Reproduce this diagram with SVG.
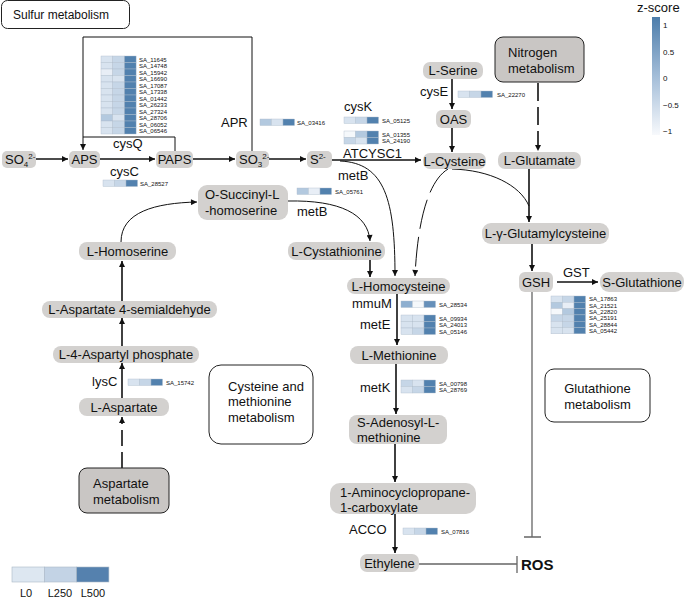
<svg xmlns="http://www.w3.org/2000/svg" width="685" height="599" viewBox="0 0 685 599">
<defs>
<marker id="ah" viewBox="0 0 10 10" refX="10" refY="5" markerWidth="7" markerHeight="6" orient="auto" markerUnits="userSpaceOnUse"><path d="M0,0 L10,5 L0,10 z" fill="#111"/></marker>
<linearGradient id="zg" x1="0" y1="0" x2="0" y2="1"><stop offset="0" stop-color="#4d7dab"/><stop offset="0.5" stop-color="#a3bdd8"/><stop offset="1" stop-color="#f7f9fc"/></linearGradient>
</defs>
<style>
text{font-family:"Liberation Sans",Arial,sans-serif;fill:#111}
.n{fill:#d3d1cf}
.p{fill:#c9c6c4;stroke:#222;stroke-width:1}
.bx{fill:#fff;stroke:#222;stroke-width:1}
.t{font-size:13px}
.tm{font-size:13px;text-anchor:middle}
.s{font-size:6px}
.z{font-size:8px}
.ln{fill:none;stroke:#111;stroke-width:1.6}
.th{fill:none;stroke:#111;stroke-width:1}
.gr{fill:none;stroke:#666;stroke-width:1.3}
.hm rect{stroke:#aebccb;stroke-width:0.4}
.a{fill:#e8eef6}.b{fill:#d8e3ef}.c{fill:#c6d6e7}.d{fill:#b3c9df}.e{fill:#8eafd0}.f{fill:#5281ae}.w{fill:#f5f8fb}
</style>
<rect width="685" height="599" fill="#fff"/>

<g id="connectors">
<path class="ln" d="M35 159 L68 159" marker-end="url(#ah)"/>
<path class="ln" d="M100 159 L155 159" marker-end="url(#ah)"/>
<path class="ln" d="M193 159 L235 159" marker-end="url(#ah)"/>
<path class="ln" d="M269 159 L306 159" marker-end="url(#ah)"/>
<path class="ln" d="M332 160 L421 160" marker-end="url(#ah)"/>
<path class="th" d="M252 151 L252 37 L83 37 L83 150" marker-end="url(#ah)"/>
<path class="th" d="M175 151 L175 137 L83 137"/>
<path class="th" d="M340 161 C385 163 395 200 395 276" marker-end="url(#ah)"/>
<path class="th" d="M448 169 C430 180 418 215 415 276" stroke-dasharray="30 8" marker-end="url(#ah)"/>
<path class="th" d="M452 169 C490 170 520 185 529 206"/>
<path class="ln" d="M529 168 L529 222" marker-end="url(#ah)"/>
<path class="ln" d="M538 83 L538 151" stroke-dasharray="18 6" marker-end="url(#ah)"/>
<path class="ln" d="M452 79 L452 109" marker-end="url(#ah)"/>
<path class="ln" d="M452 128 L452 152" marker-end="url(#ah)"/>
<path class="th" d="M288 201 C340 200 368 214 370 241" marker-end="url(#ah)"/>
<path class="th" d="M121 242 C121 212 155 203 197 202" marker-end="url(#ah)"/>
<path class="ln" d="M370 260 L370 277" marker-end="url(#ah)"/>
<path class="ln" d="M122 301 L122 261" marker-end="url(#ah)"/>
<path class="ln" d="M122 346 L122 318" marker-end="url(#ah)"/>
<path class="ln" d="M122 398 L122 363" marker-end="url(#ah)"/>
<path class="ln" d="M122 468 L122 417" stroke-dasharray="16 6" marker-end="url(#ah)"/>
<path class="ln" d="M532 244 L532 271" marker-end="url(#ah)"/>
<path class="ln" d="M557 282 L598 282" marker-end="url(#ah)"/>
<path class="ln" d="M397 294 L397 345" marker-end="url(#ah)"/>
<path class="ln" d="M396 364 L396 414" marker-end="url(#ah)"/>
<path class="ln" d="M395 444 L395 482" marker-end="url(#ah)"/>
<path class="ln" d="M395 514 L395 553" marker-end="url(#ah)"/>
<path class="gr" d="M532 292 L532 537 M524 537 L541 537"/>
<path class="gr" d="M419 564 L517 564 M517 556 L517 573"/>
</g>

<g id="sulfur-metabolism"><rect class="bx" x="1.5" y="0.5" width="128" height="28" rx="6"/><text x="13" y="19" style="font-size:12px">Sulfur metabolism</text></g>

<g id="SO4"><rect class="n" x="2" y="151" width="34" height="17" rx="5"/><text x="5" y="164" class="t">SO<tspan font-size="8" dy="3">4</tspan><tspan font-size="8" dy="-8">2-</tspan></text></g>
<g id="APS"><rect class="n" x="69" y="151" width="31" height="17" rx="5"/><text x="84.5" y="164" class="tm">APS</text></g>
<g id="PAPS"><rect class="n" x="156" y="151" width="37" height="17" rx="5"/><text x="174.5" y="164" class="tm">PAPS</text></g>
<g id="SO3"><rect class="n" x="236" y="151" width="33" height="17" rx="5"/><text x="239" y="164" class="t">SO<tspan font-size="8" dy="3">3</tspan><tspan font-size="8" dy="-8">2-</tspan></text></g>
<g id="S2"><rect class="n" x="307" y="151" width="25" height="17" rx="5"/><text x="310" y="164" class="t">S<tspan font-size="8" dy="-5">2-</tspan></text></g>
<g id="L-Serine"><rect class="n" x="423" y="62" width="60" height="17" rx="7"/><text x="453" y="75" class="tm">L-Serine</text></g>
<g id="OAS"><rect class="n" x="436" y="110" width="35" height="18" rx="6"/><text x="453.5" y="123.5" class="tm">OAS</text></g>
<g id="L-Cysteine"><rect class="n" x="423" y="153" width="63" height="16" rx="7"/><text x="454.5" y="165.5" class="tm">L-Cysteine</text></g>
<g id="L-Glutamate"><rect class="n" x="498" y="152" width="83" height="17" rx="7"/><text x="539.5" y="165" class="tm">L-Glutamate</text></g>
<g id="nitrogen-metabolism"><rect class="p" x="495" y="37" width="89" height="45" rx="8"/><text x="508" y="57" class="t">Nitrogen</text><text x="508" y="73" class="t">metabolism</text></g>
<g id="O-Succinyl-L-homoserine"><rect class="n" x="198" y="185" width="90" height="35" rx="9"/><text x="205" y="199" class="t">O-Succinyl-L</text><text x="205" y="215" class="t">-homoserine</text></g>
<g id="L-Cystathionine"><rect class="n" x="288" y="242" width="97" height="18" rx="8"/><text x="336.5" y="255.5" class="tm">L-Cystathionine</text></g>
<g id="L-Homocysteine"><rect class="n" x="347" y="278" width="103" height="16" rx="8"/><text x="398.5" y="290.5" class="tm">L-Homocysteine</text></g>
<g id="L-Methionine"><rect class="n" x="350" y="346" width="98" height="18" rx="8"/><text x="399" y="359.5" class="tm">L-Methionine</text></g>
<g id="S-Adenosyl-L-methionine"><rect class="n" x="349" y="415" width="98" height="29" rx="8"/><text x="357" y="427" class="t">S-Adenosyl-L-</text><text x="357" y="442" class="t">methionine</text></g>
<g id="ACC"><rect class="n" x="330" y="483" width="146" height="31" rx="10"/><text x="340" y="497" class="t">1-Aminocyclopropane-</text><text x="340" y="512" class="t">1-carboxylate</text></g>
<g id="Ethylene"><rect class="n" x="360" y="554" width="59" height="18" rx="7"/><text x="389.5" y="567.5" class="tm">Ethylene</text></g>
<g id="L-gamma-Glutamylcysteine"><rect class="n" x="482" y="223" width="127" height="21" rx="9"/><text x="545.5" y="238" class="tm">L-γ-Glutamylcysteine</text></g>
<g id="GSH"><rect class="n" x="519" y="272" width="34" height="20" rx="6"/><text x="536" y="286.5" class="tm">GSH</text></g>
<g id="S-Glutathione"><rect class="n" x="600" y="272" width="84" height="20" rx="9"/><text x="642" y="286.5" class="tm">S-Glutathione</text></g>
<g id="glutathione-metabolism"><rect class="bx" x="545" y="369" width="105" height="53" rx="9"/><text x="597.5" y="393" class="tm">Glutathione</text><text x="597.5" y="409" class="tm">metabolism</text></g>
<g id="ROS"><text x="521" y="570" style="font-size:15px;font-weight:bold">ROS</text></g>
<g id="L-Homoserine"><rect class="n" x="79" y="242" width="97" height="18" rx="8"/><text x="127.5" y="255.5" class="tm">L-Homoserine</text></g>
<g id="L-Aspartate-4-semialdehyde"><rect class="n" x="42" y="301" width="175" height="17" rx="8"/><text x="129.5" y="314" class="tm">L-Aspartate 4-semialdehyde</text></g>
<g id="L-4-Aspartyl-phosphate"><rect class="n" x="53" y="346" width="146" height="17" rx="8"/><text x="126" y="359" class="tm">L-4-Aspartyl phosphate</text></g>
<g id="L-Aspartate"><rect class="n" x="79" y="398" width="90" height="18" rx="8"/><text x="124" y="411.5" class="tm">L-Aspartate</text></g>
<g id="aspartate-metabolism"><rect class="p" x="79" y="468" width="90" height="45" rx="8"/><text x="93" y="488" class="t">Aspartate</text><text x="93" y="504" class="t">metabolism</text></g>
<g id="cys-met-metabolism"><rect class="bx" x="209" y="365" width="104" height="79" rx="12"/><text x="228" y="391" class="t">Cysteine and</text><text x="228" y="406" class="t">methionine</text><text x="228" y="422" class="t">metabolism</text></g>

<g id="enzyme-labels">
<text x="113" y="148" class="t">cysQ</text>
<text x="110" y="176" class="t">cysC</text>
<text x="221" y="127" class="t">APR</text>
<text x="344" y="111" class="t">cysK</text>
<text x="343" y="158" class="t">ATCYSC1</text>
<text x="338" y="180" class="t">metB</text>
<text x="297" y="216" class="t">metB</text>
<text x="420" y="96" class="t">cysE</text>
<text x="563" y="277" class="t">GST</text>
<text x="352" y="308" class="t">mmuM</text>
<text x="360" y="329" class="t">metE</text>
<text x="360" y="392" class="t">metK</text>
<text x="349" y="534" class="t">ACCO</text>
<text x="92" y="386" class="t">lysC</text>
</g>

<g id="heatmaps" class="hm">
<g transform="translate(101,56)">
<rect class="b" x="0" y="0" width="11.7" height="6.5"/><rect class="c" x="11.7" y="0" width="11.7" height="6.5"/><rect class="f" x="23.4" y="0" width="11.7" height="6.5"/>
<rect class="b" x="0" y="6.5" width="11.7" height="6.5"/><rect class="c" x="11.7" y="6.5" width="11.7" height="6.5"/><rect class="f" x="23.4" y="6.5" width="11.7" height="6.5"/>
<rect class="a" x="0" y="13" width="11.7" height="6.5"/><rect class="c" x="11.7" y="13" width="11.7" height="6.5"/><rect class="f" x="23.4" y="13" width="11.7" height="6.5"/>
<rect class="b" x="0" y="19.5" width="11.7" height="6.5"/><rect class="b" x="11.7" y="19.5" width="11.7" height="6.5"/><rect class="f" x="23.4" y="19.5" width="11.7" height="6.5"/>
<rect class="b" x="0" y="26" width="11.7" height="6.5"/><rect class="c" x="11.7" y="26" width="11.7" height="6.5"/><rect class="f" x="23.4" y="26" width="11.7" height="6.5"/>
<rect class="b" x="0" y="32.5" width="11.7" height="6.5"/><rect class="c" x="11.7" y="32.5" width="11.7" height="6.5"/><rect class="f" x="23.4" y="32.5" width="11.7" height="6.5"/>
<rect class="b" x="0" y="39" width="11.7" height="6.5"/><rect class="c" x="11.7" y="39" width="11.7" height="6.5"/><rect class="f" x="23.4" y="39" width="11.7" height="6.5"/>
<rect class="b" x="0" y="45.5" width="11.7" height="6.5"/><rect class="c" x="11.7" y="45.5" width="11.7" height="6.5"/><rect class="f" x="23.4" y="45.5" width="11.7" height="6.5"/>
<rect class="b" x="0" y="52" width="11.7" height="6.5"/><rect class="c" x="11.7" y="52" width="11.7" height="6.5"/><rect class="f" x="23.4" y="52" width="11.7" height="6.5"/>
<rect class="d" x="0" y="58.5" width="11.7" height="6.5"/><rect class="b" x="11.7" y="58.5" width="11.7" height="6.5"/><rect class="f" x="23.4" y="58.5" width="11.7" height="6.5"/>
<rect class="b" x="0" y="65" width="11.7" height="6.5"/><rect class="c" x="11.7" y="65" width="11.7" height="6.5"/><rect class="f" x="23.4" y="65" width="11.7" height="6.5"/>
<rect class="b" x="0" y="71.5" width="11.7" height="6.5"/><rect class="c" x="11.7" y="71.5" width="11.7" height="6.5"/><rect class="f" x="23.4" y="71.5" width="11.7" height="6.5"/>
<text class="s" x="38" y="5.5">SA_11645</text><text class="s" x="38" y="12">SA_14748</text><text class="s" x="38" y="18.5">SA_15942</text><text class="s" x="38" y="25">SA_16690</text><text class="s" x="38" y="31.5">SA_17087</text><text class="s" x="38" y="38">SA_17338</text><text class="s" x="38" y="44.5">SA_01442</text><text class="s" x="38" y="51">SA_26233</text><text class="s" x="38" y="57.5">SA_27324</text><text class="s" x="38" y="64">SA_28706</text><text class="s" x="38" y="70.5">SA_06052</text><text class="s" x="38" y="77">SA_06546</text>
</g>
<g transform="translate(103,180)"><rect class="b" x="0" y="0" width="11.5" height="6.5"/><rect class="c" x="11.5" y="0" width="11.5" height="6.5"/><rect class="f" x="23" y="0" width="11.5" height="6.5"/><text class="s" x="37" y="5.5">SA_28527</text></g>
<g transform="translate(260,119)"><rect class="d" x="0" y="0" width="11.5" height="6.5"/><rect class="b" x="11.5" y="0" width="11.5" height="6.5"/><rect class="f" x="23" y="0" width="11.5" height="6.5"/><text class="s" x="37" y="5.5">SA_03416</text></g>
<g transform="translate(344,117)"><rect class="b" x="0" y="0" width="11.5" height="6.5"/><rect class="c" x="11.5" y="0" width="11.5" height="6.5"/><rect class="f" x="23" y="0" width="11.5" height="6.5"/><text class="s" x="38" y="5.5">SA_05125</text></g>
<g transform="translate(344,131)"><rect class="w" x="0" y="0" width="11.5" height="6.5"/><rect class="d" x="11.5" y="0" width="11.5" height="6.5"/><rect class="f" x="23" y="0" width="11.5" height="6.5"/><rect class="c" x="0" y="6.5" width="11.5" height="6.5"/><rect class="b" x="11.5" y="6.5" width="11.5" height="6.5"/><rect class="f" x="23" y="6.5" width="11.5" height="6.5"/><text class="s" x="38" y="5.5">SA_01355</text><text class="s" x="38" y="12">SA_24190</text></g>
<g transform="translate(297,188)"><rect class="d" x="0" y="0" width="11.5" height="6.5"/><rect class="a" x="11.5" y="0" width="11.5" height="6.5"/><rect class="f" x="23" y="0" width="11.5" height="6.5"/><text class="s" x="38" y="5.5">SA_05761</text></g>
<g transform="translate(458,91)"><rect class="b" x="0" y="0" width="11.5" height="6.5"/><rect class="c" x="11.5" y="0" width="11.5" height="6.5"/><rect class="f" x="23" y="0" width="11.5" height="6.5"/><text class="s" x="39" y="5.5">SA_22270</text></g>
<g transform="translate(401,301)"><rect class="e" x="0" y="0" width="11.5" height="6.5"/><rect class="w" x="11.5" y="0" width="11.5" height="6.5"/><rect fill="#6690ba" x="23" y="0" width="11.5" height="6.5"/><text class="s" x="38" y="5.5">SA_28534</text></g>
<g transform="translate(401,315)"><rect class="b" x="0" y="0" width="11.5" height="6.5"/><rect class="b" x="11.5" y="0" width="11.5" height="6.5"/><rect class="f" x="23" y="0" width="11.5" height="6.5"/><rect class="b" x="0" y="6.5" width="11.5" height="6.5"/><rect class="b" x="11.5" y="6.5" width="11.5" height="6.5"/><rect class="f" x="23" y="6.5" width="11.5" height="6.5"/><rect class="b" x="0" y="13" width="11.5" height="6.5"/><rect class="c" x="11.5" y="13" width="11.5" height="6.5"/><rect class="f" x="23" y="13" width="11.5" height="6.5"/><text class="s" x="38" y="5.5">SA_09934</text><text class="s" x="38" y="12">SA_24013</text><text class="s" x="38" y="18.5">SA_05146</text></g>
<g transform="translate(401,380)"><rect class="c" x="0" y="0" width="11.5" height="6.5"/><rect class="b" x="11.5" y="0" width="11.5" height="6.5"/><rect class="f" x="23" y="0" width="11.5" height="6.5"/><rect class="b" x="0" y="6.5" width="11.5" height="6.5"/><rect class="c" x="11.5" y="6.5" width="11.5" height="6.5"/><rect class="f" x="23" y="6.5" width="11.5" height="6.5"/><text class="s" x="38" y="5.5">SA_00798</text><text class="s" x="38" y="12">SA_28769</text></g>
<g transform="translate(403,528)"><rect class="b" x="0" y="0" width="11.5" height="6.5"/><rect class="c" x="11.5" y="0" width="11.5" height="6.5"/><rect class="f" x="23" y="0" width="11.5" height="6.5"/><text class="s" x="38" y="5.5">SA_07816</text></g>
<g transform="translate(128,379)"><rect class="b" x="0" y="0" width="11.5" height="6.5"/><rect class="c" x="11.5" y="0" width="11.5" height="6.5"/><rect class="f" x="23" y="0" width="11.5" height="6.5"/><text class="s" x="38" y="5.5">SA_15742</text></g>
<g transform="translate(551,296)">
<rect class="b" x="0" y="0" width="11.5" height="6.3"/><rect class="c" x="11.5" y="0" width="11.5" height="6.3"/><rect class="f" x="23" y="0" width="11.5" height="6.3"/>
<rect class="d" x="0" y="6.3" width="11.5" height="6.3"/><rect class="a" x="11.5" y="6.3" width="11.5" height="6.3"/><rect class="f" x="23" y="6.3" width="11.5" height="6.3"/>
<rect class="w" x="0" y="12.6" width="11.5" height="6.3"/><rect class="d" x="11.5" y="12.6" width="11.5" height="6.3"/><rect class="f" x="23" y="12.6" width="11.5" height="6.3"/>
<rect class="c" x="0" y="18.9" width="11.5" height="6.3"/><rect class="c" x="11.5" y="18.9" width="11.5" height="6.3"/><rect class="f" x="23" y="18.9" width="11.5" height="6.3"/>
<rect class="b" x="0" y="25.2" width="11.5" height="6.3"/><rect class="c" x="11.5" y="25.2" width="11.5" height="6.3"/><rect class="f" x="23" y="25.2" width="11.5" height="6.3"/>
<rect class="b" x="0" y="31.5" width="11.5" height="6.3"/><rect class="b" x="11.5" y="31.5" width="11.5" height="6.3"/><rect class="f" x="23" y="31.5" width="11.5" height="6.3"/>
<text class="s" x="38" y="5.3">SA_17863</text><text class="s" x="38" y="11.6">SA_21521</text><text class="s" x="38" y="17.9">SA_22820</text><text class="s" x="38" y="24.2">SA_25191</text><text class="s" x="38" y="30.5">SA_28844</text><text class="s" x="38" y="36.8">SA_05442</text>
</g>
</g>

<g id="level-legend">
<rect x="12" y="567" width="32.3" height="15" fill="#dde7f1" stroke="#aab8c6" stroke-width="0.6"/>
<rect x="44.3" y="567" width="32.3" height="15" fill="#c3d3e5" stroke="#aab8c6" stroke-width="0.6"/>
<rect x="76.6" y="567" width="32.3" height="15" fill="#5581ae" stroke="#aab8c6" stroke-width="0.6"/>
<text x="26" y="597" style="font-size:11px;text-anchor:middle">L0</text>
<text x="60" y="597" style="font-size:11px;text-anchor:middle">L250</text>
<text x="93" y="597" style="font-size:11px;text-anchor:middle">L500</text>
</g>

<g id="zscore-legend">
<text x="637" y="12" class="t">z-score</text>
<rect x="652" y="17" width="8" height="118" fill="url(#zg)"/>
<text class="z" x="663" y="28">1</text>
<text class="z" x="663" y="55">0.5</text>
<text class="z" x="663" y="81">0</text>
<text class="z" x="663" y="108">−0.5</text>
<text class="z" x="663" y="134">−1</text>
</g>
</svg>
